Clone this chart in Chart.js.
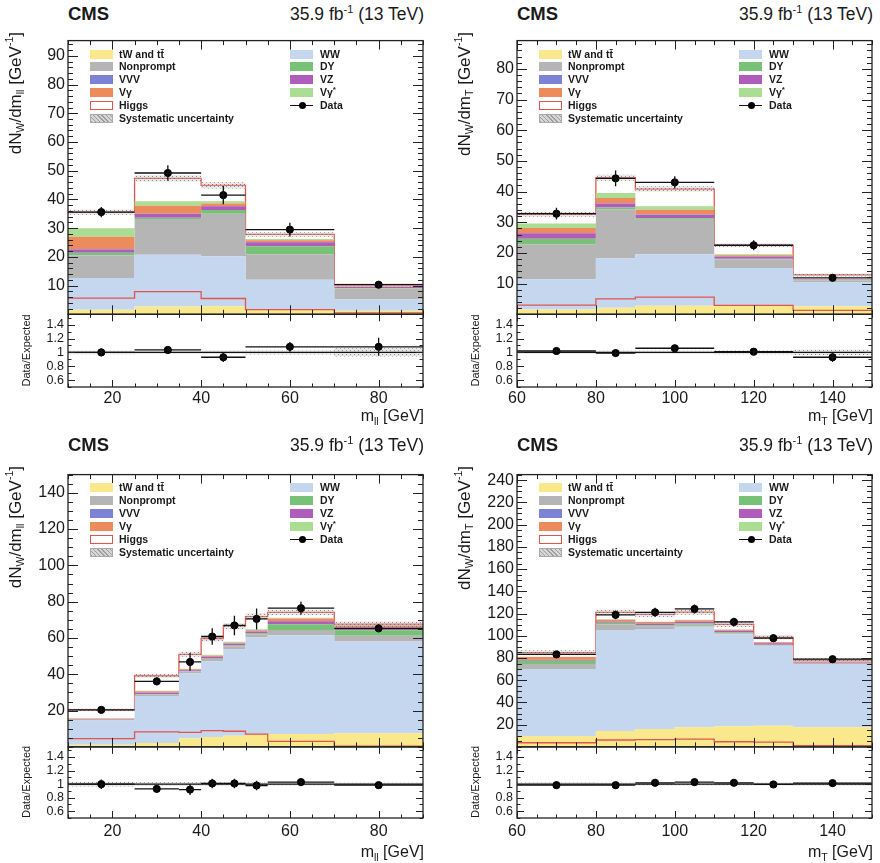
<!DOCTYPE html>
<html>
<head>
<meta charset="utf-8">
<script src="https://cdn.jsdelivr.net/npm/chart.js@4.4.0/dist/chart.umd.min.js"></script>
<style>
  body { margin: 0; background: #fff; font-family: "Liberation Sans", Arial, sans-serif; color: #1a1a1a; }
  #page { position: relative; width: 880px; height: 863px; overflow: hidden; background: #fff; }
  canvas { position: absolute; }
  .txt { position: absolute; white-space: nowrap; line-height: 20px; }
  .cms { font-weight: bold; font-size: 18.5px; }
  .lumi { font-size: 17.5px; text-align: right; }
  .lumi sup { font-size: 11px; line-height: 0; }
  .xt { font-size: 16px; text-align: right; }
  .xt sub, .yt sub { font-size: 10.5px; line-height: 0; }
  .yt sup { font-size: 10.5px; line-height: 0; }
  .yt { position: absolute; writing-mode: vertical-rl; transform: rotate(180deg); font-size: 17px; line-height: 18px; white-space: nowrap; }
  .rt { position: absolute; writing-mode: vertical-rl; transform: rotate(180deg); font-size: 11px; line-height: 12px; white-space: nowrap; text-align: center; }
  .lg { position: absolute; height: 13px; font-size: 10.5px; font-weight: bold; line-height: 13px; white-space: nowrap; }
  .lg .sw { position: absolute; left: 0; top: 2px; width: 23px; height: 9px; box-sizing: border-box; }
  .lg .lt { position: absolute; top: 0; }
  .lg sup { font-size: 8px; line-height: 0; }
</style>
</head>
<body>
<div id="page"></div>
<script>
// ---- values ----

// top left: m_ll
var tlEdges = [10, 25, 40, 50, 70, 90];
var tlTW = [1.6, 2.7, 2.8, 1.8, 1.2];
var tlWW = [11.0, 18.0, 17.4, 10.2, 4.0];
var tlNonprompt = [7.9, 12.5, 14.8, 8.9, 3.8];
var tlDY = [0.9, 0.4, 1.3, 2.8, 0.2];
var tlVZ = [1.2, 1.3, 1.3, 1.4, 0.3];
var tlVVV = [0.1, 0.1, 0.1, 0.1, 0.05];
var tlVg = [4.3, 2.8, 0.9, 0.6, 0.1];
var tlVgStar = [3.0, 1.6, 0.8, 0.4, 0.1];
var tlHiggs = [5.6, 7.9, 5.5, 1.6, 0.5];
var tlSyst = [0.9, 1.1, 1.1, 0.8, 0.6];
var tlData = [35.6, 49.2, 41.5, 29.5, 10.3];
var tlDataErr = [1.8, 2.7, 3.2, 2.4, 1.0];
var tlRatio = [1.0, 1.035, 0.93, 1.08, 1.08];
var tlRatioErr = [0.06, 0.05, 0.07, 0.07, 0.13];

// top right: m_T
var trEdges = [60, 80, 90, 110, 130, 150];
var trTW = [1.6, 2.1, 2.8, 2.7, 2.6];
var trWW = [9.8, 16.2, 16.8, 12.4, 7.8];
var trNonprompt = [11.4, 15.9, 11.2, 2.8, 0.6];
var trDY = [1.8, 0.6, 0.5, 0.2, 0.1];
var trVZ = [1.8, 1.3, 1.1, 0.7, 0.2];
var trVVV = [0.1, 0.1, 0.1, 0.05, 0.02];
var trVg = [1.6, 1.7, 1.6, 0.4, 0.1];
var trVgStar = [1.5, 1.6, 1.1, 0.3, 0.1];
var trHiggs = [3.0, 5.0, 5.6, 2.9, 1.3];
var trSyst = [0.8, 1.0, 0.9, 0.6, 0.5];
var trData = [32.8, 44.3, 43.0, 22.5, 11.9];
var trDataErr = [1.9, 2.6, 2.0, 1.6, 1.0];
var trRatio = [1.02, 0.99, 1.06, 1.01, 0.93];
var trRatioErr = [0.05, 0.05, 0.05, 0.05, 0.07];

// bottom left: m_ll
var blEdges = [10, 25, 35, 40, 45, 50, 55, 70, 90];
var blTW = [1.2, 2.2, 4.7, 5.5, 6.2, 6.8, 7.1, 7.5];
var blWW = [13.4, 25.8, 35.9, 41.7, 47.4, 53.5, 54.4, 50.5];
var blNonprompt = [0.3, 0.9, 0.9, 1.2, 1.8, 1.8, 2.9, 3.2];
var blDY = [0.1, 0.2, 0.2, 0.3, 0.4, 0.5, 3.1, 3.0];
var blVZ = [0.2, 0.7, 0.5, 0.9, 1.0, 1.0, 1.7, 1.4];
var blVVV = [0.05, 0.1, 0.1, 0.1, 0.1, 0.1, 0.1, 0.1];
var blVg = [0.4, 0.7, 0.4, 0.5, 0.5, 0.6, 1.4, 1.2];
var blVgStar = [0.1, 0.3, 0.3, 0.5, 0.5, 0.5, 0.4, 0.3];
var blHiggs = [4.6, 8.3, 8.0, 9.0, 8.6, 7.0, 3.0, 0.4];
var blSyst = [0.7, 1.1, 1.4, 1.6, 1.7, 1.8, 1.6, 1.5];
var blData = [20.4, 36.1, 46.8, 60.8, 66.9, 70.5, 76.4, 65.3];
var blDataErr = [1.6, 2.2, 4.9, 4.5, 5.4, 5.8, 3.6, 2.2];
var blRatio = [1.0, 0.93, 0.92, 1.01, 1.01, 0.98, 1.03, 0.985];
var blRatioErr = [0.07, 0.05, 0.08, 0.07, 0.07, 0.07, 0.04, 0.03];

// bottom right: m_T
var brEdges = [60, 80, 90, 100, 110, 120, 130, 150];
var brTW = [9.8, 14.2, 16.2, 17.7, 18.5, 19.1, 17.7];
var brWW = [60.3, 90.9, 89.8, 90.3, 82.8, 72.0, 56.8];
var brNonprompt = [4.4, 5.0, 2.5, 2.0, 1.0, 0.5, 0.3];
var brDY = [2.9, 1.5, 1.0, 1.0, 0.8, 0.4, 0.3];
var brVZ = [0.9, 1.2, 1.5, 1.5, 1.3, 1.2, 0.8];
var brVVV = [0.1, 0.1, 0.1, 0.1, 0.1, 0.1, 0.1];
var brVg = [2.5, 1.5, 1.2, 1.3, 0.8, 0.8, 0.8];
var brVgStar = [0.3, 0.5, 0.4, 0.4, 0.3, 0.2, 0.2];
var brHiggs = [3.7, 6.2, 6.5, 7.0, 4.6, 4.3, 1.1];
var brSyst = [2.0, 2.5, 2.5, 2.5, 2.3, 2.0, 1.8];
var brData = [83.2, 118.8, 121.1, 124.1, 112.4, 97.8, 78.9];
var brDataErr = [2.0, 4.0, 4.0, 4.0, 3.8, 3.5, 2.0];
var brRatio = [0.985, 0.985, 1.02, 1.03, 1.02, 0.995, 1.015];
var brRatioErr = [0.02, 0.03, 0.03, 0.03, 0.03, 0.03, 0.02];

// tick labels
var mllTicks = [20, 40, 60, 80];
var mtTicks = [60, 80, 100, 120, 140];
var tlYTicks = [10, 20, 30, 40, 50, 60, 70, 80, 90];
var trYTicks = [10, 20, 30, 40, 50, 60, 70, 80];
var blYTicks = [20, 40, 60, 80, 100, 120, 140];
var brYTicks = [20, 40, 60, 80, 100, 120, 140, 160, 180, 200, 220, 240];
var ratioTicks = [0.6, 0.8, 1, 1.2, 1.4];

// process names, bottom of the stack first
var procNames = ['tW and tt\u0304', 'WW', 'Nonprompt', 'DY', 'VZ', 'VVV', 'V\u03b3', 'V\u03b3*', 'Higgs'];
var legendLeft = ['tW and tt\u0304', 'Nonprompt', 'VVV', 'V\u03b3', 'Higgs', 'Systematic uncertainty'];
var legendRight = ['WW', 'DY', 'VZ', 'V\u03b3*', 'Data'];

// ---- styles ----
var procColors = ['#f9e98c', '#c4d7ee', '#b5b5b5', '#78c278', '#b05cba', '#7c82d4', '#ec8c5c', '#abdd93', '#ffffff'];
var HIGGS_RED = '#e0564e';

Chart.defaults.font.family = '"Liberation Sans", Arial, sans-serif';
Chart.defaults.color = '#1a1a1a';

function hatchPattern() {
  var c = document.createElement('canvas');
  c.width = 4; c.height = 4;
  var g = c.getContext('2d');
  g.fillStyle = 'rgba(190,190,190,0.35)';
  g.fillRect(0, 0, 4, 4);
  g.fillStyle = 'rgba(80,80,80,0.6)';
  g.fillRect(0, 0, 1, 1);
  g.fillRect(2, 2, 1, 1);
  return g.createPattern(c, 'repeat');
}
var HATCH = hatchPattern();

// histogram outline as a stepped line: one point per left edge plus the last edge
function steps(edges, vals) {
  var pts = vals.map(function(v, i) { return {x: edges[i], y: v}; });
  pts.push({x: edges[edges.length - 1], y: vals[vals.length - 1]});
  return pts;
}

// error bars for the data points
var errorBars = {
  id: 'errorBars',
  afterDatasetsDraw: function(chart) {
    var ctx = chart.ctx;
    chart.data.datasets.forEach(function(ds, i) {
      if (!ds.errY) return;
      var meta = chart.getDatasetMeta(i);
      var xs = chart.scales[meta.xAxisID], ys = chart.scales[meta.yAxisID];
      ctx.save();
      ctx.beginPath();
      ctx.rect(xs.left, ys.top, xs.right - xs.left, ys.bottom - ys.top);
      ctx.clip();
      ctx.strokeStyle = '#111';
      ctx.lineWidth = 1.3;
      ds.data.forEach(function(p, j) {
        var px = xs.getPixelForValue(p.x), py = ys.getPixelForValue(p.y);
        ctx.beginPath();
        ctx.moveTo(xs.getPixelForValue(ds.xLo[j]), py);
        ctx.lineTo(xs.getPixelForValue(ds.xHi[j]), py);
        ctx.moveTo(px, ys.getPixelForValue(p.y - ds.errY[j]));
        ctx.lineTo(px, ys.getPixelForValue(p.y + ds.errY[j]));
        ctx.stroke();
      });
      ctx.restore();
    });
  }
};

// ROOT-like frame with ticks on the inside
var frameTicks = {
  id: 'frameTicks',
  afterDraw: function(chart, args, o) {
    var ctx = chart.ctx, xs = chart.scales.x;
    ctx.save();
    ctx.strokeStyle = '#222';
    ctx.lineWidth = 1;
    [['y', o.yMinor, o.yLen, o.xLenMain], ['yR', o.rMinor, o.rLen, o.xLenRatio]].forEach(function(a) {
      var ys = chart.scales[a[0]];
      var top = ys.top, bot = ys.bottom, l = xs.left, r = xs.right;
      function yTick(v, len) {
        var py = Math.round(ys.getPixelForValue(v)) + 0.5;
        ctx.moveTo(l, py); ctx.lineTo(l + len, py);
        ctx.moveTo(r, py); ctx.lineTo(r - len, py);
      }
      function xTick(v, len) {
        var px = Math.round(xs.getPixelForValue(v)) + 0.5;
        ctx.moveTo(px, bot); ctx.lineTo(px, bot - len);
        ctx.moveTo(px, top); ctx.lineTo(px, top + len);
      }
      ctx.beginPath();
      ys.ticks.forEach(function(t) { yTick(t.value, a[2]); });
      for (var k = Math.ceil(ys.min / a[1] - 1e-6); k * a[1] <= ys.max + 1e-9; k++) yTick(k * a[1], a[2] / 2);
      xs.ticks.forEach(function(t) { xTick(t.value, a[3]); });
      for (var m = Math.ceil(xs.min / o.xMinor - 1e-6); m * o.xMinor <= xs.max + 1e-9; m++) xTick(m * o.xMinor, a[3] / 2);
      ctx.stroke();
      ctx.lineWidth = 1.3;
      ctx.strokeRect(l, top, r - l, bot - top);
      ctx.lineWidth = 1;
    });
    ctx.restore();
  }
};

function addText(cls, html, css) {
  var d = document.createElement('div');
  d.className = cls;
  d.innerHTML = html;
  d.style.cssText = css;
  document.getElementById('page').appendChild(d);
  return d;
}

function starSup(name) {
  return name.replace('*', '<sup>*</sup>');
}

function swatchStyle(name) {
  if (name === 'Higgs') return 'background:#fff;border:1.5px solid ' + HIGGS_RED + ';';
  if (name === 'Systematic uncertainty') return 'background:#d6d6d6 repeating-linear-gradient(45deg, rgba(90,90,90,0.45) 0 1px, transparent 1px 3px);border:1px solid #aaa;';
  return 'background:' + procColors[procNames.indexOf(name)] + ';';
}

function addLegend(p) {
  var rowH = 12.9;
  function row(name, i, swX, txX) {
    var y = p.top + 22 + i * rowH - 6.5;
    var sw;
    if (name === 'Data') {
      sw = '<span class="sw" style="top:6px;height:1.4px;background:#111"></span>' +
           '<span class="sw" style="left:8.5px;top:3px;width:7px;height:7px;border-radius:50%;background:#000"></span>';
    } else {
      sw = '<span class="sw" style="' + swatchStyle(name) + '"></span>';
    }
    addText('lg', sw + '<span class="lt" style="left:' + (txX - swX) + 'px">' + starSup(name) + '</span>',
      'left:' + (p.left + swX) + 'px;top:' + y + 'px;');
  }
  legendLeft.forEach(function(n, i) { row(n, i, 22, 51); });
  legendRight.forEach(function(n, i) { row(n, i, 222, 252); });
}

function makePanel(p) {
  var page = document.getElementById('page');
  var padL = 60, padT = 4, padR = 4, xAxisH = 26;
  var cw = p.w + padL + padR, ch = padT + p.mainH + p.ratioH + xAxisH;
  var canvas = document.createElement('canvas');
  canvas.width = cw; canvas.height = ch;
  canvas.style.cssText = 'left:' + (p.left - padL) + 'px;top:' + (p.top - padT) + 'px;width:' + cw + 'px;height:' + ch + 'px;';
  page.appendChild(canvas);

  var comps = [p.tw, p.ww, p.np, p.dy, p.vz, p.vvv, p.vg, p.vgs, p.higgs];
  var total = p.tw.map(function(_, i) {
    return comps.reduce(function(s, c) { return s + c[i]; }, 0);
  });
  var xLo = p.edges.slice(0, -1), xHi = p.edges.slice(1);
  var centers = xLo.map(function(e, i) { return (e + xHi[i]) / 2; });
  var xmin = p.edges[0], xmax = p.edges[p.edges.length - 1];

  var datasets = comps.map(function(vals, k) {
    var isHiggs = k === comps.length - 1;
    return {
      label: procNames[k], data: steps(p.edges, vals), yAxisID: 'y', stack: 'mc', stepped: true,
      backgroundColor: procColors[k], fill: k === 0 ? 'origin' : '-1',
      borderColor: isHiggs ? HIGGS_RED : 'rgba(0,0,0,0)', borderWidth: isHiggs ? 1.3 : 1,
      pointRadius: 0, order: 5
    };
  });
  datasets.push({
    label: 'syst up', data: steps(p.edges, total.map(function(t, i) { return t + p.syst[i]; })),
    yAxisID: 'y', stack: 'su', stepped: true, fill: '+1', backgroundColor: HATCH,
    borderColor: 'rgba(0,0,0,0)', pointRadius: 0, order: 3
  });
  datasets.push({
    label: 'syst down', data: steps(p.edges, total.map(function(t, i) { return t - p.syst[i]; })),
    yAxisID: 'y', stack: 'sd', stepped: true, fill: false,
    borderColor: 'rgba(0,0,0,0)', pointRadius: 0, order: 3
  });
  datasets.push({
    label: 'Higgs line', data: steps(p.edges, p.higgs), yAxisID: 'y', stack: 'hl', stepped: true,
    fill: false, borderColor: HIGGS_RED, borderWidth: 1.3, pointRadius: 0, order: 2
  });
  datasets.push({
    label: 'Data', data: centers.map(function(c, i) { return {x: c, y: p.data[i]}; }),
    yAxisID: 'y', stack: 'data', showLine: false, pointRadius: 3.6,
    pointBackgroundColor: '#000', pointBorderColor: '#000', order: 0,
    errY: p.dataErr, xLo: xLo, xHi: xHi
  });
  // ratio panel
  datasets.push({
    label: 'ratio syst up', data: steps(p.edges, total.map(function(t, i) { return 1 + p.syst[i] / t; })),
    yAxisID: 'yR', stepped: true, fill: '+1', backgroundColor: HATCH,
    borderColor: 'rgba(0,0,0,0)', pointRadius: 0, order: 3
  });
  datasets.push({
    label: 'ratio syst down', data: steps(p.edges, total.map(function(t, i) { return 1 - p.syst[i] / t; })),
    yAxisID: 'yR', stepped: true, fill: false,
    borderColor: 'rgba(0,0,0,0)', pointRadius: 0, order: 3
  });
  datasets.push({
    label: 'unity', data: [{x: xmin, y: 1}, {x: xmax, y: 1}], yAxisID: 'yR',
    borderColor: '#111', borderWidth: 1.4, pointRadius: 0, fill: false, order: 1
  });
  datasets.push({
    label: 'Data/Expected', data: centers.map(function(c, i) { return {x: c, y: p.ratio[i]}; }),
    yAxisID: 'yR', showLine: false, pointRadius: 3.6,
    pointBackgroundColor: '#000', pointBorderColor: '#000', order: 0,
    errY: p.ratioErr, xLo: xLo, xHi: xHi
  });

  new Chart(canvas, {
    type: 'line',
    data: {datasets: datasets},
    options: {
      responsive: false, animation: false, devicePixelRatio: 1, events: [],
      layout: {padding: {left: 0, top: padT, right: padR, bottom: 0}},
      plugins: {
        legend: {display: false}, tooltip: {enabled: false},
        frameTicks: {yMinor: p.yMinor, yLen: 10, rMinor: 0.1, rLen: 7, xMinor: 5, xLenMain: 9, xLenRatio: 7}
      },
      scales: {
        x: {
          type: 'linear', min: xmin, max: xmax,
          grid: {display: false, drawTicks: false}, border: {display: false},
          ticks: {font: {size: 16}, padding: p.xPad, maxRotation: 0, autoSkip: false},
          afterBuildTicks: function(s) { s.ticks = p.xTicks.map(function(v) { return {value: v}; }); },
          afterFit: function(s) { s.height = xAxisH; }
        },
        y: {
          type: 'linear', position: 'left', stack: 'v', stackWeight: p.mainH, weight: 2, stacked: true,
          min: 0, max: p.yMax,
          grid: {display: false, drawTicks: false}, border: {display: false},
          ticks: {font: {size: 16}, padding: 3, autoSkip: false},
          afterBuildTicks: function(s) { s.ticks = p.yTicks.map(function(v) { return {value: v}; }); },
          afterFit: function(s) { s.width = padL; }
        },
        yR: {
          type: 'linear', position: 'left', stack: 'v', stackWeight: p.ratioH, weight: 1,
          min: 0.5, max: 1.55,
          grid: {display: false, drawTicks: false}, border: {display: false},
          ticks: {font: {size: 12.5}, padding: 4, autoSkip: false, callback: function(v) { return String(v); }},
          afterBuildTicks: function(s) { s.ticks = ratioTicks.map(function(v) { return {value: v}; }); },
          afterFit: function(s) { s.width = padL; }
        }
      }
    },
    plugins: [errorBars, frameTicks]
  });

  // header, axis titles, legend
  addText('txt cms', 'CMS', 'left:' + p.left + 'px;top:' + (p.headY - 10) + 'px;');
  addText('txt lumi', '35.9 fb<sup>-1</sup> (13 TeV)', 'left:' + p.left + 'px;width:' + p.w + 'px;top:' + (p.headY - 10) + 'px;');
  addText('yt', p.yTitle, 'left:' + (p.left - 61) + 'px;top:' + p.top + 'px;');
  addText('rt', 'Data/Expected', 'left:' + (p.left - 48) + 'px;top:' + (p.top + p.mainH) + 'px;height:' + p.ratioH + 'px;');
  addText('txt xt', p.xTitle, 'left:' + p.left + 'px;width:' + p.w + 'px;top:' + (p.xTitleY - 10) + 'px;');
  addLegend(p);
}

var panels = [
  {left: 68, top: 32, w: 356, mainH: 280.5, ratioH: 74.5, headY: 13.5, xTitleY: 416, xPad: 2,
   edges: tlEdges, tw: tlTW, ww: tlWW, np: tlNonprompt, dy: tlDY, vz: tlVZ, vvv: tlVVV, vg: tlVg, vgs: tlVgStar,
   higgs: tlHiggs, syst: tlSyst, data: tlData, dataErr: tlDataErr, ratio: tlRatio, ratioErr: tlRatioErr,
   yMax: 95.3, yTicks: tlYTicks, yMinor: 2, xTicks: mllTicks,
   yTitle: 'dN<sub>W</sub>/dm<sub>ll</sub> [GeV<sup>-1</sup>]', xTitle: 'm<sub>ll</sub> [GeV]'},
  {left: 517, top: 32, w: 356, mainH: 280.5, ratioH: 74.5, headY: 13.5, xTitleY: 416, xPad: 2,
   edges: trEdges, tw: trTW, ww: trWW, np: trNonprompt, dy: trDY, vz: trVZ, vvv: trVVV, vg: trVg, vgs: trVgStar,
   higgs: trHiggs, syst: trSyst, data: trData, dataErr: trDataErr, ratio: trRatio, ratioErr: trRatioErr,
   yMax: 89.2, yTicks: trYTicks, yMinor: 2, xTicks: mtTicks,
   yTitle: 'dN<sub>W</sub>/dm<sub>T</sub> [GeV<sup>-1</sup>]', xTitle: 'm<sub>T</sub> [GeV]'},
  {left: 68, top: 465.5, w: 356, mainH: 279.5, ratioH: 73, headY: 445, xTitleY: 852, xPad: 4,
   edges: blEdges, tw: blTW, ww: blWW, np: blNonprompt, dy: blDY, vz: blVZ, vvv: blVVV, vg: blVg, vgs: blVgStar,
   higgs: blHiggs, syst: blSyst, data: blData, dataErr: blDataErr, ratio: blRatio, ratioErr: blRatioErr,
   yMax: 150, yTicks: blYTicks, yMinor: 5, xTicks: mllTicks,
   yTitle: 'dN<sub>W</sub>/dm<sub>ll</sub> [GeV<sup>-1</sup>]', xTitle: 'm<sub>ll</sub> [GeV]'},
  {left: 517, top: 465.5, w: 356, mainH: 279.5, ratioH: 73, headY: 445, xTitleY: 852, xPad: 4,
   edges: brEdges, tw: brTW, ww: brWW, np: brNonprompt, dy: brDY, vz: brVZ, vvv: brVVV, vg: brVg, vgs: brVgStar,
   higgs: brHiggs, syst: brSyst, data: brData, dataErr: brDataErr, ratio: brRatio, ratioErr: brRatioErr,
   yMax: 245, yTicks: brYTicks, yMinor: 5, xTicks: mtTicks,
   yTitle: 'dN<sub>W</sub>/dm<sub>T</sub> [GeV<sup>-1</sup>]', xTitle: 'm<sub>T</sub> [GeV]'}
];

panels.forEach(makePanel);
</script>
</body>
</html>
